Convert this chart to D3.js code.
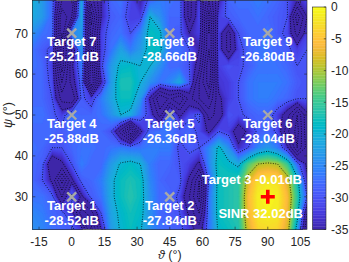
<!DOCTYPE html>
<html><head><meta charset="utf-8">
<script src="https://cdn.jsdelivr.net/npm/d3@7"></script>
<style>
body{margin:0;background:#fff}
svg{display:block}
text{font-family:"Liberation Sans",Arial,Helvetica,sans-serif}
</style>
</head><body>
<svg id="chart" width="349" height="262"></svg>
<script>
// ---- data ----
const thetaValues = [-18,-13.5,-9,-4.5,0,4.5,9,13.5,18,22.5,27,31.5,36,40.5,45,49.5,54,58.5,63,67.5,72,76.5,81,85.5,90,94.5,99,103.5,108];
const psiValues = [78,74,70,66,62,58,54,50,46,42,38,34,30,26,22];
// beam pattern gain (dB), one row per psi value (top to bottom)
const row78 = [-20,-23,-28,-45,-50,-22,-48,-35,-28,-27,-31,-35,-28,-26,-27,-28,-42,-32,-50,-35,-28,-27,-27,-26,-27,-28,-30,-35,-31];
const row74 = [-21,-23,-28,-55,-45,-21,-58,-35,-29,-28,-32,-32,-20,-24,-28,-28,-42,-31,-58,-32,-29,-28,-28,-27,-28,-29,-30,-48,-35];
const row70 = [-24,-27,-28,-55,-25.21,-23,-52,-32,-28,-27,-30,-25,-18,-19,-28.66,-29,-35,-32,-55,-32,-42,-30,-28,-28,-26.8,-29,-31,-42,-32];
const row66 = [-27,-29,-31,-58,-40,-23,-55,-32,-27,-22,-26,-23,-18,-19,-27,-27,-30,-35,-55,-32,-42,-32,-28,-27,-27,-28,-29,-32,-30];
const row62 = [-27,-28,-32,-58,-36,-26,-58,-31,-23,-19,-18.5,-20,-20,-24,-28,-28,-30,-38,-60,-32,-30,-31,-29,-27,-27,-27,-28,-30,-30];
const row58 = [-28,-28,-31,-50,-38,-28,-60,-35,-23,-17,-17,-20,-24,-27,-25,-21,-29,-45,-58,-33,-32,-30,-27,-26,-26,-26,-27,-29,-30];
const row54 = [-28,-28,-30,-42,-45,-29,-32,-26,-22,-18,-18,-23,-36,-50,-44,-50,-38,-45,-50,-36,-32,-30,-27,-26,-26,-27,-28,-30,-30];
const row50 = [-27,-27,-29,-32,-25.88,-28,-28,-27,-24,-20,-21,-27,-32,-42,-26.36,-36,-31,-29,-42,-38,-30,-31,-29,-28,-28.04,-32,-38,-50,-36];
const row46 = [-28,-28,-28,-29,-28,-28,-28,-28,-30,-42,-60,-36,-28,-27,-27,-29,-28,-31,-36,-30,-32,-38,-34,-29,-28,-31,-44,-52,-36];
const row42 = [-27,-28,-30,-30,-28,-27,-27,-28,-27,-26,-27,-27,-26,-26,-26,-31,-29,-30,-25,-19,-24,-34,-30,-25,-23,-26,-34,-50,-38];
const row38 = [-28,-29,-40,-36,-30,-26,-28,-28,-23,-19.5,-18.5,-20,-26,-28,-28,-30,-32,-36,-25,-18,-19,-21,-14,-10,-9,-10,-15,-28,-36];
const row34 = [-28,-30,-36,-52,-36,-29,-28,-26,-21,-18,-17,-18,-25,-28,-29,-29,-36,-50,-29,-18,-17,-16,-8,-2.5,-2,-2.5,-8,-18,-34];
const row30 = [-27,-27,-29,-40,-28.52,-36,-29,-27,-21,-18,-16.5,-18,-24,-28,-27.84,-31,-40,-52,-27,-18,-17,-16,-6,-1.2,-0.01,-1.2,-6,-16,-30];
const row26 = [-25,-26,-28,-29,-33,-48,-42,-30,-22,-19,-17.5,-18.5,-24,-28,-29,-30,-36,-45,-27,-18,-17,-16,-6.5,-1.5,-1,-1.5,-6.5,-18,-40];
const row22 = [-24,-25,-27,-28,-29,-33,-52,-35,-23,-19.5,-18,-19.5,-24,-27,-28,-29,-32,-38,-27,-19,-18,-17,-8,-3.5,-3,-3.5,-8,-22,-45];
const gainRows = [row78,row74,row70,row66,row62,row58,row54,row50,row46,row42,row38,row34,row30,row26,row22];

const xTicks = [-15,0,15,30,45,60,75,90,105];
const yTicks = [30,40,50,60,70];
const cbTicks = [0,-5,-10,-15,-20,-25,-30,-35];
const contourLevels = [-10,-20,-30,-35,-40,-45,-50,-55];

const targetNames = ["Target 1","Target 2","Target 3","Target 4","Target 5","Target 6","Target 7","Target 8","Target 9"];
const targetTheta = [0,45,90,0,45,90,0,45,90];
const targetPsi = [30,30,30,50,50,50,70,70,70];
const targetDb = [-28.52,-27.84,-0.01,-25.88,-26.36,-28.04,-25.21,-28.66,-26.80];
const sinrDb = 32.02;

// ---- parula colormap (64 entries) ----
const parulaTable = [
[0.2422,0.1504,0.6603],[0.2504,0.1650,0.7076],[0.2578,0.1818,0.7511],[0.2647,0.1978,0.7952],[0.2706,0.2147,0.8364],[0.2751,0.2342,0.8710],[0.2783,0.2559,0.8991],[0.2803,0.2782,0.9221],
[0.2813,0.3006,0.9414],[0.2810,0.3228,0.9579],[0.2795,0.3447,0.9717],[0.2760,0.3667,0.9829],[0.2699,0.3892,0.9906],[0.2602,0.4123,0.9952],[0.2440,0.4358,0.9988],[0.2206,0.4603,0.9973],
[0.1963,0.4847,0.9892],[0.1834,0.5074,0.9798],[0.1786,0.5289,0.9682],[0.1764,0.5499,0.9520],[0.1687,0.5703,0.9359],[0.1540,0.5902,0.9218],[0.1460,0.6091,0.9079],[0.1380,0.6276,0.8973],
[0.1248,0.6459,0.8883],[0.1113,0.6635,0.8763],[0.0952,0.6798,0.8598],[0.0689,0.6948,0.8394],[0.0297,0.7082,0.8163],[0.0036,0.7203,0.7917],[0.0067,0.7312,0.7660],[0.0433,0.7411,0.7394],
[0.0964,0.7500,0.7120],[0.1408,0.7584,0.6842],[0.1717,0.7670,0.6554],[0.1938,0.7758,0.6251],[0.2161,0.7843,0.5923],[0.2470,0.7918,0.5567],[0.2906,0.7973,0.5188],[0.3406,0.8008,0.4789],
[0.3909,0.8029,0.4354],[0.4456,0.8024,0.3909],[0.5044,0.7993,0.3480],[0.5616,0.7942,0.3045],[0.6174,0.7876,0.2612],[0.6720,0.7793,0.2227],[0.7242,0.7698,0.1910],[0.7738,0.7598,0.1646],
[0.8203,0.7498,0.1535],[0.8634,0.7406,0.1596],[0.9035,0.7330,0.1774],[0.9393,0.7288,0.2100],[0.9728,0.7298,0.2394],[0.9956,0.7434,0.2371],[0.9970,0.7659,0.2199],[0.9952,0.7893,0.2028],
[0.9892,0.8136,0.1885],[0.9786,0.8386,0.1766],[0.9676,0.8639,0.1643],[0.9610,0.8890,0.1537],[0.9597,0.9135,0.1423],[0.9628,0.9373,0.1265],[0.9691,0.9606,0.1064],[0.9769,0.9839,0.0805]];
function parula(t){
  t = Math.max(0, Math.min(1, t));
  const n = parulaTable.length - 1, f = t * n, i = Math.min(n - 1, Math.floor(f)), u = f - i;
  const a = parulaTable[i], b = parulaTable[i + 1];
  return d3.rgb((a[0]+(b[0]-a[0])*u)*255,(a[1]+(b[1]-a[1])*u)*255,(a[2]+(b[2]-a[2])*u)*255).toString();
}
const cmin = -35, cmax = 0;
const color = v => parula((v - cmin) / (cmax - cmin));

// ---- layout ----
const svg = d3.select("#chart");
const x = d3.scaleLinear().domain([-18,108]).range([32.5,307]);
const y = d3.scaleLinear().domain([22,78]).range([229.5,0.5]);
const axisColor = "#262626";

const nx = thetaValues.length, ny = psiValues.length;
const dTheta = thetaValues[1]-thetaValues[0], dPsi = psiValues[0]-psiValues[1];
const values = gainRows.flat();
const gx = c => x(thetaValues[0] + (c - 0.5) * dTheta);
const gy = r => y(psiValues[0] - (r - 0.5) * dPsi);
const proj = d3.geoTransform({point(px, py){ this.stream.point(gx(px), gy(py)); }});
const path = d3.geoPath(proj);

svg.append("defs").append("clipPath").attr("id","plotclip")
  .append("rect").attr("x",x(-18)).attr("y",y(78)).attr("width",x(108)-x(-18)).attr("height",y(22)-y(78));

const plot = svg.append("g").attr("clip-path","url(#plotclip)");
plot.append("rect").attr("x",x(-18)).attr("y",y(78)).attr("width",x(108)-x(-18)).attr("height",y(22)-y(78)).attr("fill",color(cmin));

const fillThresholds = d3.range(cmin, cmax + 0.01, 0.5);
const bands = d3.contours().size([nx, ny]).smooth(true).thresholds(fillThresholds)(values);
plot.selectAll("path.band").data(bands).join("path").attr("class","band")
  .attr("d", path).attr("fill", d => color(d.value + 0.25)).attr("stroke", d => color(d.value + 0.25)).attr("stroke-width",0.3);

const lines = d3.contours().size([nx, ny]).thresholds(contourLevels)(values);
plot.selectAll("path.cline").data(lines).join("path").attr("class","cline")
  .attr("d", path).attr("fill","none").attr("stroke","#000").attr("stroke-width",0.85)
  .attr("stroke-dasharray","0.85 1.6");

// markers
const mk = svg.append("g");
targetTheta.forEach((t, i) => {
  const cx = x(t), cy = y(targetPsi[i]);
  if (i === 2) {
    mk.append("path").attr("d",`M${cx-7},${cy}H${cx+7}M${cx},${cy-7}V${cy+7}`)
      .attr("stroke","#ff0000").attr("stroke-width",3.6);
  } else {
    const s = 4.5;
    mk.append("path").attr("d",`M${cx-s},${cy-s}L${cx+s},${cy+s}M${cx-s},${cy+s}L${cx+s},${cy-s}`)
      .attr("stroke","#a8a8a8").attr("stroke-width",2.4);
  }
});

// labels
const lab = svg.append("g").attr("fill","#fff").attr("font-weight","bold").attr("font-size",13);
targetTheta.forEach((t, i) => {
  const cx = x(t), cy = y(targetPsi[i]);
  if (i === 2) {
    lab.append("text").attr("x",302).attr("y",cy-13).attr("text-anchor","end")
      .text(`${targetNames[i]} ${targetDb[i].toFixed(2)}dB`);
    lab.append("text").attr("x",303).attr("y",cy+21).attr("text-anchor","end")
      .text(`SINR ${sinrDb.toFixed(2)}dB`);
  } else {
    lab.append("text").attr("x",cx).attr("y",cy+13).attr("text-anchor","middle").text(targetNames[i]);
    lab.append("text").attr("x",cx).attr("y",cy+28).attr("text-anchor","middle").text(`${targetDb[i].toFixed(2)}dB`);
  }
});

// axes frame
const ax = svg.append("g").attr("stroke",axisColor).attr("stroke-width",0.6).attr("fill","none");
ax.append("rect").attr("x",x(-18)).attr("y",y(78)).attr("width",x(108)-x(-18)).attr("height",y(22)-y(78));
const tl = 2.8;
xTicks.forEach(v => {
  ax.append("line").attr("x1",x(v)).attr("x2",x(v)).attr("y1",y(22)).attr("y2",y(22)-tl);
  ax.append("line").attr("x1",x(v)).attr("x2",x(v)).attr("y1",y(78)).attr("y2",y(78)+tl);
});
yTicks.forEach(v => {
  ax.append("line").attr("x1",x(-18)).attr("x2",x(-18)+tl).attr("y1",y(v)).attr("y2",y(v));
  ax.append("line").attr("x1",x(108)).attr("x2",x(108)-tl).attr("y1",y(v)).attr("y2",y(v));
});
const tk = svg.append("g").attr("fill",axisColor).attr("font-size",12);
xTicks.forEach(v => tk.append("text").attr("x",x(v)).attr("y",246).attr("text-anchor","middle").text(v));
yTicks.forEach(v => tk.append("text").attr("x",28).attr("y",y(v)+4.3).attr("text-anchor","end").text(v));

// axis labels
const xl = svg.append("text").attr("x",(x(-18)+x(108))/2).attr("y",258.5).attr("text-anchor","middle")
  .attr("fill",axisColor).attr("font-size",12.5);
xl.append("tspan").attr("font-style","italic").text("ϑ");
xl.append("tspan").text(" (°)");
const yl = svg.append("text").attr("transform",`translate(11.5,${(y(22)+y(78))/2}) rotate(-90)`).attr("text-anchor","middle")
  .attr("fill",axisColor).attr("font-size",12.5);
yl.append("tspan").attr("font-style","italic").text("ψ");
yl.append("tspan").text(" (°)");

// colorbar
const cb = d3.scaleLinear().domain([cmin, cmax]).range([229.5, 7]);
const cbx = 312.5, cbw = 13.5;
const cbg = svg.append("g");
d3.range(cmin, cmax, 0.25).forEach(v => {
  cbg.append("rect").attr("x",cbx).attr("y",cb(v+0.25)).attr("width",cbw).attr("height",cb(v)-cb(v+0.25)+0.3).attr("fill",color(v+0.125));
});
cbg.append("rect").attr("x",cbx).attr("y",cb(cmax)).attr("width",cbw).attr("height",cb(cmin)-cb(cmax))
  .attr("fill","none").attr("stroke",axisColor).attr("stroke-width",0.6);
cbTicks.forEach(v => {
  cbg.append("line").attr("x1",cbx+cbw).attr("x2",cbx+cbw-2.2).attr("y1",cb(v)).attr("y2",cb(v)).attr("stroke",axisColor).attr("stroke-width",0.6);
  cbg.append("text").attr("x",331).attr("y",cb(v)+4.3).attr("fill",axisColor).attr("font-size",12).text(v);
});
</script>
</body></html>
